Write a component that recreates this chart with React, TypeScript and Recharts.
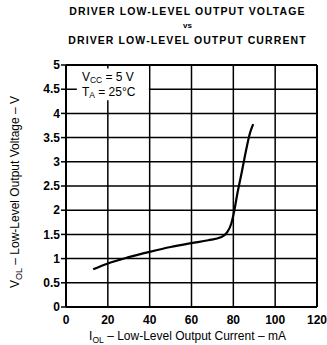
import { LineChart, Line, XAxis, YAxis, CartesianGrid, ReferenceArea, ReferenceLine, Label } from 'recharts'

const currentMa = [13, 20, 30, 40, 50, 60, 68, 74, 77, 79, 80.5, 82, 84, 86, 88, 89.5]
const voltageV = [0.78, 0.9, 1.03, 1.14, 1.24, 1.32, 1.38, 1.44, 1.54, 1.72, 2.0, 2.36, 2.78, 3.22, 3.6, 3.78]
const xTicks = [0, 20, 40, 60, 80, 100, 120]
const yTicks = [0, 0.5, 1, 1.5, 2, 2.5, 3, 3.5, 4, 4.5, 5]
const titleLines = ['DRIVER LOW-LEVEL OUTPUT VOLTAGE', 'vs', 'DRIVER LOW-LEVEL OUTPUT CURRENT']

const data = currentMa.map((x, i) => ({ x, v: voltageV[i] }))

const font = '"Liberation Sans", Arial, sans-serif'
const tickStyle = { fill: '#000', fontSize: 12, fontWeight: 700, fontFamily: font }

function BoxText(props: any) {
  const vb = props.viewBox || {}
  const x = vb.x + 5
  const y = vb.y
  return (
    <g fontFamily={font} fontSize={12} fill="#000">
      <text x={x} y={y + 13}>
        V<tspan fontSize={8.5} dy={2}>CC</tspan><tspan dy={-2}> = 5 V</tspan>
      </text>
      <text x={x} y={y + 28}>
        T<tspan fontSize={8.5} dy={2}>A</tspan><tspan dy={-2}> = 25°C</tspan>
      </text>
    </g>
  )
}

function YTitle(props: any) {
  const vb = props.viewBox || {}
  const cx = 19
  const cy = vb.y + vb.height / 2 + 6
  return (
    <text x={cx} y={cy} transform={`rotate(-90 ${cx} ${cy})`} textAnchor="middle"
      fontFamily={font} fontSize={12} fill="#000">
      V<tspan fontSize={9} dy={3}>OL</tspan><tspan dy={-3}> – Low-Level Output Voltage – V</tspan>
    </text>
  )
}

function XTitle(props: any) {
  const vb = props.viewBox || {}
  const cx = vb.x + vb.width / 2 - 4
  return (
    <text x={cx} y={340} textAnchor="middle" fontFamily={font} fontSize={12} fill="#000">
      I<tspan fontSize={8.5} dy={2.5}>OL</tspan><tspan dy={-2.5}> – Low-Level Output Current – mA</tspan>
    </text>
  )
}

export default function App() {
  return (
    <div style={{ position: 'absolute', left: 0, top: 0, width: 327, height: 345, background: '#fff' }}>
      <div style={{ position: 'absolute', left: 0, top: 4, width: 375, textAlign: 'center', fontFamily: font,
        fontWeight: 700, fontSize: 10.5, letterSpacing: 1.1, lineHeight: '14.5px', color: '#000' }}>
        {titleLines.map((t, i) => (
          <div key={i} style={i === 1 ? { fontSize: 8, letterSpacing: 0 } : undefined}>{t}</div>
        ))}
      </div>
      <LineChart width={327} height={345} data={data}
        margin={{ top: 65, right: 10, bottom: 18, left: 0 }}
        style={{ position: 'absolute', left: 0, top: 0 }}>
        <CartesianGrid stroke="#000" strokeWidth={1.5} />
        <XAxis dataKey="x" type="number" domain={[0, 120]} ticks={xTicks} height={20}
          tick={tickStyle} tickLine={false} tickMargin={2}
          axisLine={{ stroke: '#000', strokeWidth: 2 }}>
          <Label content={<XTitle />} />
        </XAxis>
        <YAxis type="number" domain={[0, 5]} ticks={yTicks} width={66}
          tick={tickStyle} tickSize={5} tickMargin={1}
          tickLine={{ stroke: '#000', strokeWidth: 1.5 }} axisLine={{ stroke: '#000', strokeWidth: 2 }}>
          <Label content={<YTitle />} />
        </YAxis>
        <ReferenceArea x1={5.2} x2={39.6} y1={4.27} y2={4.93} fill="#fff" fillOpacity={1} stroke="none"
          label={<BoxText />} />
        <ReferenceLine y={5} stroke="#000" strokeWidth={2} />
        <ReferenceLine x={120} stroke="#000" strokeWidth={2} />
        <Line type="monotone" dataKey="v" stroke="#000" strokeWidth={2.2} dot={false} isAnimationActive={false} />
      </LineChart>
    </div>
  )
}
